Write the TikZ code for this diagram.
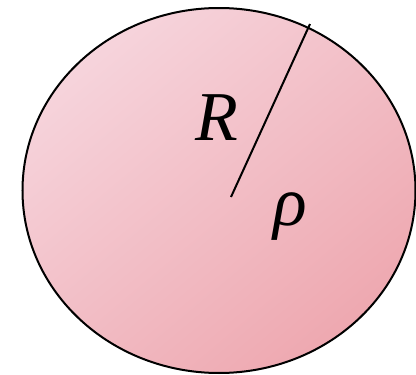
\documentclass[tikz,border=0pt]{standalone}
\usepackage{fontspec}
\setmainfont{Liberation Serif}
\usetikzlibrary{shapes.geometric}
\definecolor{DiskLt}{HTML}{F6D4DC}
\definecolor{DiskDk}{HTML}{EEA8B0}
\tikzset{
  disk/.style={ellipse,draw=black,line width=2pt,inner sep=0pt,
    top color=DiskLt,bottom color=DiskDk,shading angle=40},
  sym/.style={font=\fontsize{70}{70}\selectfont\itshape,inner sep=0pt}
}
\begin{document}
\begin{tikzpicture}[x=1pt,y=-1pt]
\useasboundingbox (0,0) rectangle (416,375);
% ---------- ball ----------
\node[disk,minimum width=393pt,minimum height=365pt] (ball) at (219,190.5) {};
% ---------- radius ----------
\coordinate (ctr) at (231,197);
\coordinate (rim) at (310,24);
\draw[line width=2pt] (ctr) -- (rim);
\node[sym] (lblR) at (217,118) {R};
\node[sym] (lblrho) at (290,217) {ρ};
\end{tikzpicture}
\end{document}
